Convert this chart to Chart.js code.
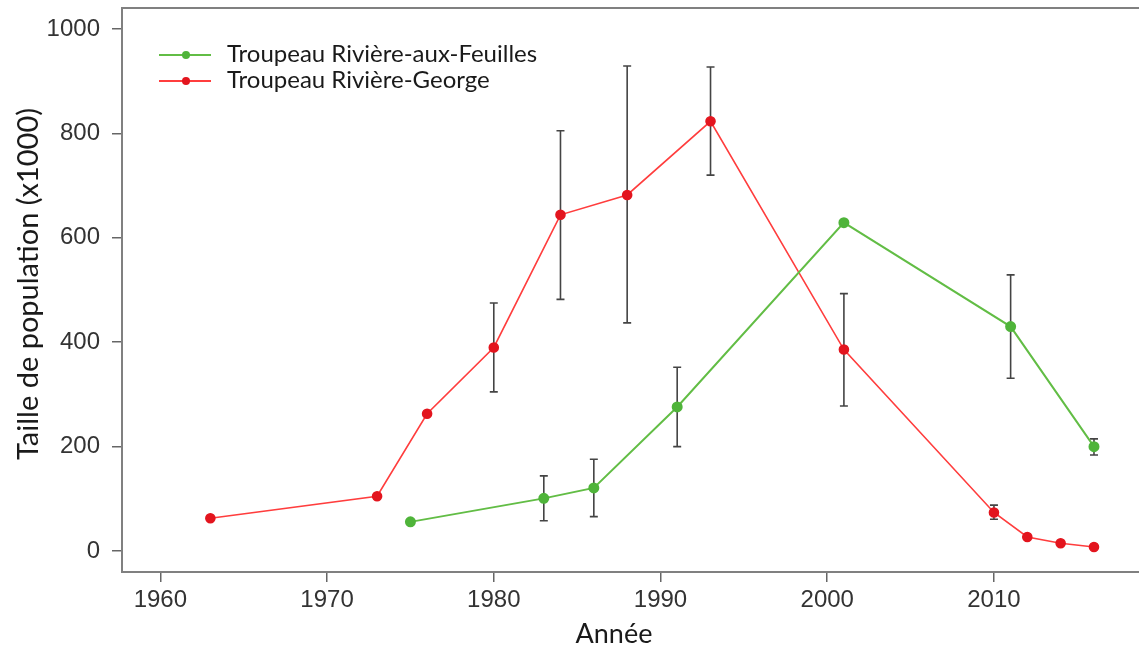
<!DOCTYPE html>
<html lang="fr">
<head>
<meta charset="utf-8">
<title>Taille de population des troupeaux</title>
<script src="https://cdn.jsdelivr.net/npm/chart.js@4.4.1/dist/chart.umd.min.js"></script>
<style>
  html, body { margin: 0; padding: 0; background: #fff; }
  #wrap { width: 1139px; height: 648px; position: relative; }
</style>
</head>
<body>
<div id="wrap"><canvas id="popChart"></canvas></div>
<script>
// tick labels
const xTicks = [1960, 1970, 1980, 1990, 2000, 2010];
const yTicks = [0, 200, 400, 600, 800, 1000];

// Troupeau Rivière-aux-Feuilles
const feuillesYears = [1975, 1983, 1986, 1991, 2001, 2011, 2016];
const feuillesValues = [56, 101, 121, 276, 629, 430, 200];
const feuillesLow = [null, 58, 66, 200, null, 331, 184];
const feuillesHigh = [null, 144, 176, 352, null, 529, 215];

// Troupeau Rivière-George
const georgeYears = [1963, 1973, 1976, 1980, 1984, 1988, 1993, 2001, 2010, 2012, 2014, 2016];
const georgeValues = [63, 105, 263, 390, 644, 682, 823, 386, 74, 27, 15, 8];
const georgeLow = [null, null, null, 305, 482, 437, 720, 278, 61, null, null, null];
const georgeHigh = [null, null, null, 475, 805, 929, 927, 493, 88, null, null, null];

const labelFont = "'Lato', 'Noto Sans', sans-serif";
const tickFont = "'Liberation Sans', Arial, sans-serif";

function toPoints(xs, ys) {
  return xs.map(function (x, i) { return { x: x, y: ys[i] }; });
}

// barres d'erreur, dessinées sous les points
const errorBars = {
  id: 'errorBars',
  beforeDatasetsDraw(chart) {
    const ctx = chart.ctx;
    const yScale = chart.scales.y;
    ctx.save();
    ctx.strokeStyle = '#444';
    ctx.lineWidth = 1.6;
    chart.data.datasets.forEach(function (ds, di) {
      const meta = chart.getDatasetMeta(di);
      meta.data.forEach(function (pt, i) {
        if (ds.errLow[i] == null) return;
        const y1 = yScale.getPixelForValue(ds.errLow[i]);
        const y2 = yScale.getPixelForValue(ds.errHigh[i]);
        ctx.beginPath();
        ctx.moveTo(pt.x, y1);
        ctx.lineTo(pt.x, y2);
        ctx.moveTo(pt.x - 4, y1);
        ctx.lineTo(pt.x + 4, y1);
        ctx.moveTo(pt.x - 4, y2);
        ctx.lineTo(pt.x + 4, y2);
        ctx.stroke();
      });
    });
    ctx.restore();
  }
};

// cadre, légende et titres des axes
const decorations = {
  id: 'decorations',
  afterDraw(chart) {
    const ctx = chart.ctx;
    const a = chart.chartArea;
    ctx.save();
    ctx.strokeStyle = '#808080';
    ctx.lineWidth = 2;
    ctx.strokeRect(a.left, a.top, a.right - a.left + 4, a.bottom - a.top);

    ctx.font = '24px ' + labelFont;
    ctx.textBaseline = 'alphabetic';
    ctx.textAlign = 'left';
    chart.data.datasets.forEach(function (ds, i) {
      const y = 55 + i * 26;
      ctx.strokeStyle = ds.borderColor;
      ctx.lineWidth = 2;
      ctx.beginPath();
      ctx.moveTo(159, y);
      ctx.lineTo(211, y);
      ctx.stroke();
      ctx.fillStyle = ds.pointBackgroundColor;
      ctx.beginPath();
      ctx.arc(186, y, 4, 0, Math.PI * 2);
      ctx.fill();
      ctx.fillStyle = '#1a1a1a';
      ctx.fillText(ds.label, 227, y + 7);
    });

    ctx.fillStyle = '#1a1a1a';
    ctx.font = '27px ' + labelFont;
    ctx.textAlign = 'center';
    ctx.fillText('Année', 614, 643);

    ctx.translate(38, 284);
    ctx.rotate(-Math.PI / 2);
    ctx.font = '29px ' + labelFont;
    ctx.fillText('Taille de population (x1000)', 0, 0);
    ctx.restore();
  }
};

const ctx = document.getElementById('popChart').getContext('2d');
const popChart = new Chart(ctx, {
  type: 'line',
  data: {
    datasets: [
      {
        label: 'Troupeau Rivière-aux-Feuilles',
        data: toPoints(feuillesYears, feuillesValues),
        errLow: feuillesLow,
        errHigh: feuillesHigh,
        borderColor: '#62bd45',
        borderWidth: 2,
        pointBackgroundColor: '#4fb43a',
        pointBorderColor: '#4fb43a',
        pointRadius: 4.5,
        tension: 0,
      },
      {
        label: 'Troupeau Rivière-George',
        data: toPoints(georgeYears, georgeValues),
        errLow: georgeLow,
        errHigh: georgeHigh,
        borderColor: '#ff3d3d',
        borderWidth: 1.6,
        pointBackgroundColor: '#e3151e',
        pointBorderColor: '#e3151e',
        pointRadius: 4.5,
        tension: 0,
      },
    ],
  },
  options: {
    responsive: true,
    maintainAspectRatio: false,
    animation: false,
    layout: { autoPadding: false, padding: { top: 8, left: 0, right: 0, bottom: 0 } },
    plugins: { legend: { display: false }, tooltip: { enabled: false } },
    scales: {
      x: {
        type: 'linear',
        min: 1957.7,
        max: 2018.7,
        afterBuildTicks: function (scale) {
          scale.ticks = xTicks.map(function (v) { return { value: v }; });
        },
        afterFit: function (scale) {
          scale.height = 76;
          scale.paddingLeft = 0;
          scale.paddingRight = 0;
        },
        border: { display: false },
        grid: { drawOnChartArea: false, tickLength: 10, color: '#666', lineWidth: 1.5 },
        ticks: {
          padding: 4,
          color: '#333',
          font: { family: tickFont, size: 24 },
          callback: function (v) { return String(v); },
        },
      },
      y: {
        min: -40,
        max: 1040,
        afterBuildTicks: function (scale) {
          scale.ticks = yTicks.map(function (v) { return { value: v }; });
        },
        afterFit: function (scale) {
          scale.width = 122;
          scale.paddingTop = 0;
          scale.paddingBottom = 0;
        },
        border: { display: false },
        grid: { drawOnChartArea: false, tickLength: 10, color: '#666', lineWidth: 1.5 },
        ticks: {
          padding: 12,
          color: '#333',
          font: { family: tickFont, size: 24 },
          callback: function (v) { return String(v); },
        },
      },
    },
  },
  plugins: [errorBars, decorations],
});
</script>
</body>
</html>
